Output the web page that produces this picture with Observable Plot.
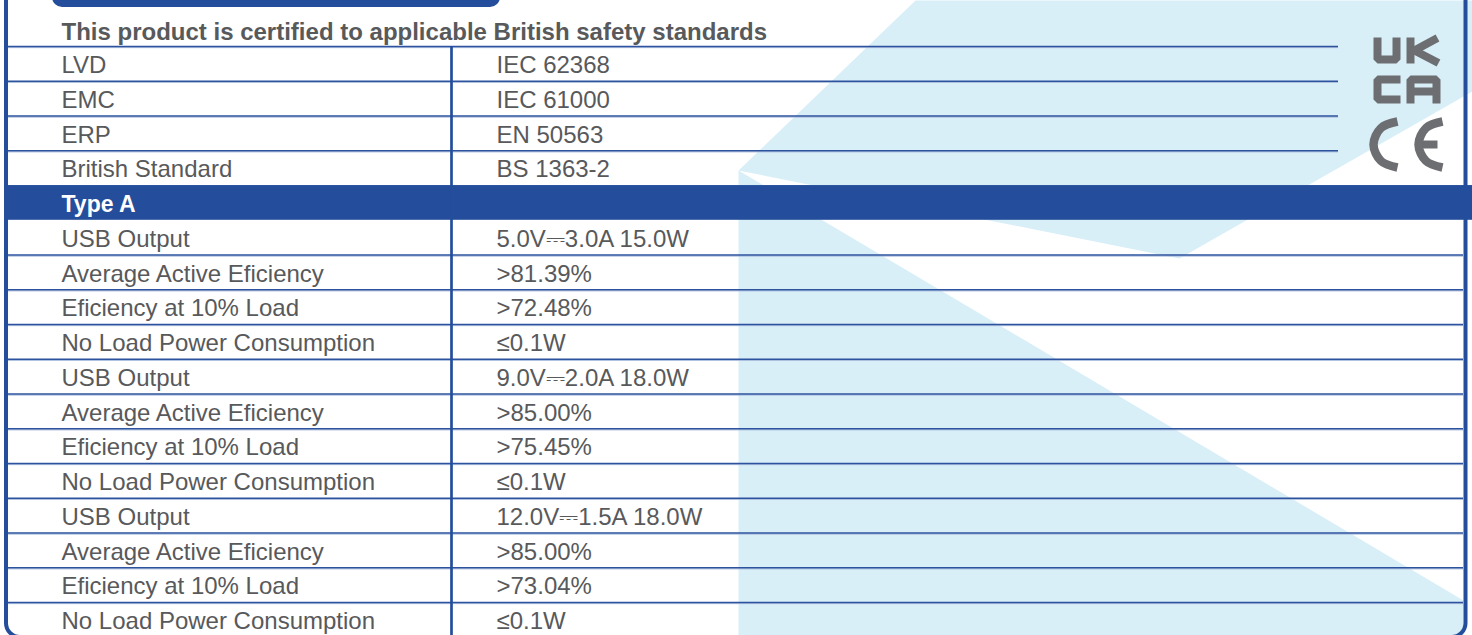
<!DOCTYPE html>
<html><head><meta charset="utf-8">
<script src="https://cdn.jsdelivr.net/npm/d3@7"></script>
<script src="https://cdn.jsdelivr.net/npm/@observablehq/plot@0.6"></script>
<style>html,body{margin:0;padding:0;background:#fff;overflow:hidden}</style>
</head><body><div id="chart"></div>
<script>
// ---- content ----
const sectionTitle = "This product is certified to applicable British safety standards";
const standardNames = ["LVD", "EMC", "ERP", "British Standard"];
const standardCodes = ["IEC 62368", "IEC 61000", "EN 50563", "BS 1363-2"];
const typeLabel = "Type A";
const specNames = [
  "USB Output", "Average Active Eficiency", "Eficiency at 10% Load", "No Load Power Consumption",
  "USB Output", "Average Active Eficiency", "Eficiency at 10% Load", "No Load Power Consumption",
  "USB Output", "Average Active Eficiency", "Eficiency at 10% Load", "No Load Power Consumption"
];
const specValues = [
  "5.0V\u23933.0A 15.0W", ">81.39%", ">72.48%", "\u22640.1W",
  "9.0V\u23932.0A 18.0W", ">85.00%", ">75.45%", "\u22640.1W",
  "12.0V\u23931.5A 18.0W", ">85.00%", ">73.04%", "\u22640.1W"
];

// ---- layout (decoration geometry, pixel space) ----
const W = 1472, H = 635;
const rowTop0 = 11.3, rowH = 34.75;
const colX = [61, 496];
const dividerX = 451;
const blue = "#244e9b", gray = "#58595b", light = "#d9eff8", logoGray = "#6d6e71";
const bgShapes = [
  {id: "upper", pts: [[915, 0], [1472, 0], [1472, 91], [1179, 258], [738, 170]]},
  {id: "lower", pts: [[738, 170], [1463, 600], [1463, 636], [738, 636]]}
];
const logoLines = [
  {id: "U", pts: [[1377, 37], [1377, 59], [1396, 59], [1396, 37]]},
  {id: "K1", pts: [[1410, 37], [1410, 63]]},
  {id: "K2", pts: [[1412, 51], [1437, 37.5]]},
  {id: "K3", pts: [[1412, 49], [1438, 62.5]]},
  {id: "C", pts: [[1400, 79], [1377, 79], [1377, 99], [1400, 99]]},
  {id: "A", pts: [[1410, 103], [1410, 79], [1436, 79], [1436, 103]]},
  {id: "Abar", pts: [[1410, 91], [1436, 91]]},
  {id: "Ebar", pts: [[1419, 144], [1437, 144]]}
];
const ceArcs = [
  {id: "C", pts: [[1397, 121], [1380.5, 127.5], [1373, 144], [1380.5, 160.5], [1397, 167]]},
  {id: "E", pts: [[1442, 121], [1425.5, 127.5], [1418, 144], [1425.5, 160.5], [1442, 167]]}
];

const rowY = k => rowTop0 + k * rowH;
const flat = shapes => shapes.flatMap(s => s.pts.map(([x, y]) => ({id: s.id, x, y})));

// rows: 0 title, 1-4 standards, 5 band, 6-17 specs
const leftRows = [
  ...standardNames.map((t, i) => ({k: i + 1, t})),
  ...specNames.map((t, i) => ({k: i + 6, t}))
];
const rightRows = [
  ...standardCodes.map((t, i) => ({k: i + 1, t})),
  ...specValues.map((t, i) => ({k: i + 6, t}))
];
const rules = [
  ...[1, 2, 3, 4].map(k => ({y: rowY(k), x1: 8, x2: 1338})),
  ...d3.range(7, 18).map(k => ({y: rowY(k), x1: 8, x2: 1463}))
];
const font = "'Liberation Sans', Arial, 'DejaVu Sans', sans-serif";

const chart = Plot.plot({
  width: W, height: H,
  margin: 0,
  x: {domain: [0, W], range: [0, W], axis: null},
  y: {domain: [0, H], range: [0, H], axis: null},
  style: {fontFamily: font, background: "#fff"},
  marks: [
    Plot.line(flat(bgShapes), {x: "x", y: "y", z: "id", fill: light, stroke: "none"}),
    Plot.rect([typeLabel], {x1: 6, x2: W, y1: rowY(5), y2: rowY(6), fill: blue}),
    Plot.ruleY(rules, {y: d => d.y + 1.1, x1: "x1", x2: "x2", stroke: "#a8bbdb", strokeWidth: 1}),
    Plot.ruleY(rules, {y: "y", x1: "x1", x2: "x2", stroke: "#2d529e", strokeWidth: 1.4}),
    Plot.ruleX([dividerX], {y1: rowY(1), y2: H + 5, stroke: blue, strokeWidth: 2.7}),
    Plot.rect([0], {x1: 52, x2: 500, y1: -15, y2: 7, rx: 10, fill: blue}),
    Plot.rect([0], {x1: 6, x2: 1465.5, y1: -20, y2: 637, rx: 14, fill: "none", stroke: blue, strokeWidth: 4}),
    Plot.text([sectionTitle], {x: colX[0], y: rowY(0) + 28, text: d => d, textAnchor: "start", lineAnchor: "bottom",
      fontSize: 24, fontWeight: "bold", fill: gray}),
    Plot.text([typeLabel], {x: colX[0], y: rowY(5) + 26.5, text: d => d, textAnchor: "start", lineAnchor: "bottom",
      fontSize: 23, fontWeight: "bold", fill: "#fff"}),
    Plot.text(leftRows, {x: colX[0], y: d => rowY(d.k) + 26.5, text: "t", textAnchor: "start", lineAnchor: "bottom",
      fontSize: 24, fill: gray}),
    Plot.text(rightRows, {x: colX[1], y: d => rowY(d.k) + 26.5, text: "t", textAnchor: "start", lineAnchor: "bottom",
      fontSize: 24, fill: gray}),
    Plot.line(flat(logoLines), {x: "x", y: "y", z: "id", stroke: logoGray, strokeWidth: 8, strokeLinejoin: "miter", strokeLinecap: "butt"}),
    Plot.line(flat(ceArcs), {x: "x", y: "y", z: "id", stroke: logoGray, strokeWidth: 8.5, curve: "catmull-rom", strokeLinecap: "butt"})
  ]
});
document.getElementById("chart").appendChild(chart);
</script>
</body></html>
